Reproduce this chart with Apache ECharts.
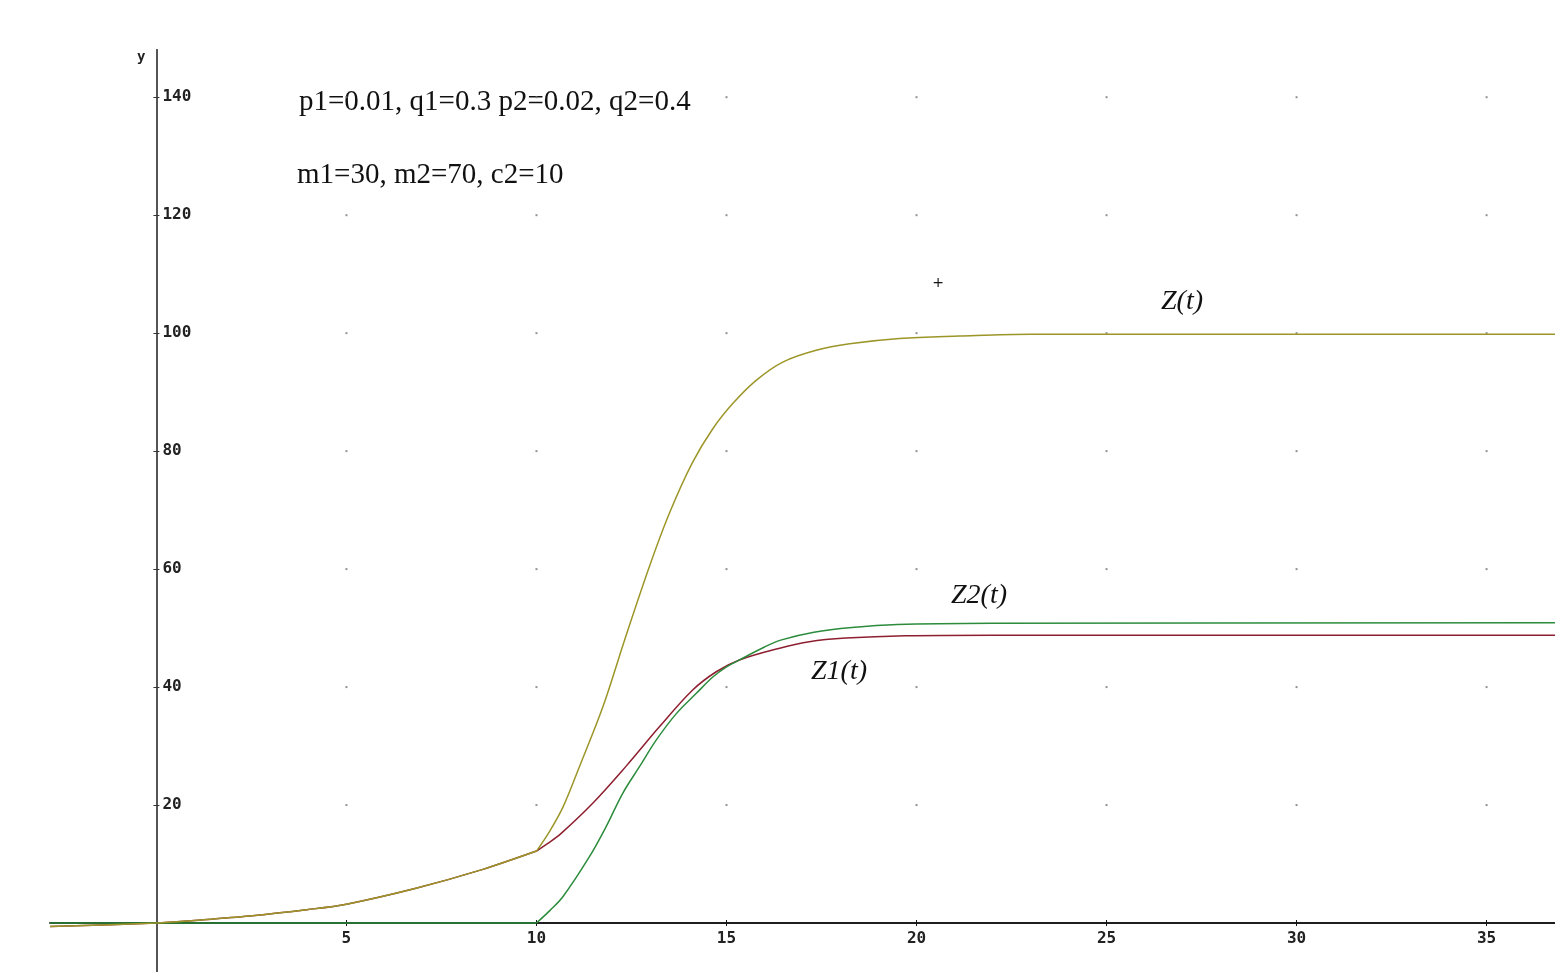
<!DOCTYPE html>
<html>
<head>
<meta charset="utf-8">
<script src="https://cdn.jsdelivr.net/npm/echarts@6/dist/echarts.min.js"></script>
<style>
html,body{margin:0;padding:0;background:#fff;}
#chart{width:1555px;height:972px;}
</style>
</head>
<body>
<div id="chart"></div>
<script>
// ---- data ----
const xTicks = [5, 10, 15, 20, 25, 30, 35];
const yTicks = [20, 40, 60, 80, 100, 120, 140];

// common part before t = 10 (Z = Z1, Z2 = 0)
const tPre = [-2.8, 0, 1, 2.45, 4, 5, 6.83, 8.59, 10];
const zPre = [-0.6, 0, 0.45, 1.2, 2.3, 3.2, 5.9, 9.1, 12.2];
const tZ2Pre = [-2.8, 10];
const z2Pre = [0, 0];

// Z(t) after t = 10
const tZ = [10, 10.35, 10.7, 11.13, 11.75, 12.32, 12.97, 13.5, 14.1, 14.64, 15.17, 15.78, 16.48, 17.36, 18.24, 19.55, 21.13, 23, 36.8];
const zVals = [12.2, 15.6, 19.7, 26.5, 36.7, 48.0, 60.4, 69.5, 78, 83.8, 88.1, 92.0, 95.1, 97.1, 98.2, 99.1, 99.5, 99.8, 99.8];

// Z1(t) after t = 10
const tZ1 = [10, 10.3, 10.65, 11.48, 12.36, 13.24, 14.11, 14.73, 15.34, 16.4, 17.18, 18.14, 19.7, 22, 36.8];
const z1Vals = [12.2, 13.5, 15.2, 20.3, 26.6, 33.3, 39.5, 42.6, 44.6, 46.6, 47.7, 48.3, 48.7, 48.8, 48.8];

// Z2(t) after t = 10
const tZ2 = [10, 10.35, 10.7, 11.39, 11.83, 12.27, 12.71, 13.15, 13.68, 14.2, 14.64, 14.99, 15.34, 16.0, 16.45, 17.3, 18.3, 19.5, 22, 36.8];
const z2Vals = [0, 2.1, 4.5, 11.2, 16.3, 22.0, 26.5, 31.0, 35.5, 38.9, 41.7, 43.4, 44.6, 46.8, 48.0, 49.3, 50.1, 50.6, 50.8, 50.9];

const paramLine1 = 'p1=0.01, q1=0.3 p2=0.02, q2=0.4';
const paramLine2 = 'm1=30, m2=70, c2=10';
const labelZ = 'Z(t)', labelZ1 = 'Z1(t)', labelZ2 = 'Z2(t)';

// ---- build ----
const pairs = (ts, vs) => ts.map((t, i) => [t, vs[i]]);
const dots = [];
xTicks.forEach(x => yTicks.forEach(y => dots.push([x, y])));

const cOlive = '#9c9628', cRed = '#8e1f30', cGreen = '#2c8c3c';
const monoFont = {fontFamily: 'DejaVu Sans Mono', fontWeight: 'bold', fontSize: 16, color: '#222'};

function line(data, color, smooth) {
  return {
    type: 'line', data: data, showSymbol: false, symbol: 'none',
    smooth: smooth,
    lineStyle: {color: color, width: 1.5}, silent: true
  };
}

// grid geometry
const G = {left: 50, top: 50, width: 1505, height: 922};
const xMin = -2.8, xMax = 36.8, yMin = -8.3, yMax = 148;
// offsets that bring the axes onto x = 0 and y = 0
const yAxisOffset = -(0 - xMin) / (xMax - xMin) * G.width;
const xAxisOffset = -(0 - yMin) / (yMax - yMin) * G.height;

const chart = echarts.init(document.getElementById('chart'), null, {renderer: 'canvas'});
const xBase = {type: 'value', min: xMin, max: xMax, splitLine: {show: false}, position: 'bottom', offset: xAxisOffset};
const yBase = {type: 'value', min: yMin, max: yMax, splitLine: {show: false}, position: 'left', offset: yAxisOffset};

chart.setOption({
  animation: false,
  backgroundColor: '#ffffff',
  grid: Object.assign({containLabel: false, outerBoundsMode: 'none'}, G),
  xAxis: [
    Object.assign({}, xBase, {
      axisLine: {show: true, onZero: false, lineStyle: {color: '#111', width: 1.5}},
      axisTick: {show: true, customValues: xTicks, length: 3, lineStyle: {color: '#111', width: 1}},
      axisLabel: Object.assign({customValues: xTicks, margin: 8}, monoFont)
    }),
    Object.assign({}, xBase, {
      axisLine: {show: true, onZero: false, lineStyle: {color: '#111', width: 1.5}},
      axisTick: {show: true, inside: true, customValues: xTicks, length: 3, lineStyle: {color: '#111', width: 1}},
      axisLabel: {show: false}
    })
  ],
  yAxis: [
    Object.assign({}, yBase, {
      axisLine: {show: true, onZero: false, lineStyle: {color: '#555', width: 2}},
      axisTick: {show: true, customValues: yTicks, length: 3, lineStyle: {color: '#333', width: 1}},
      axisLabel: Object.assign({customValues: yTicks, inside: true, margin: 6}, monoFont)
    }),
    Object.assign({}, yBase, {
      axisLine: {show: true, onZero: false, lineStyle: {color: '#555', width: 2}},
      axisTick: {show: true, inside: true, customValues: yTicks, length: 3, lineStyle: {color: '#333', width: 1}},
      axisLabel: {show: false}
    })
  ],
  series: [
    {type: 'scatter', data: dots, symbol: 'rect', symbolSize: 2, itemStyle: {color: '#777'}, silent: true},
    line(pairs(tPre, zPre), cRed, 0.3),
    line(pairs(tZ1, z1Vals), cRed, 0.35),
    line(pairs(tZ2Pre, z2Pre), cGreen, false),
    line(pairs(tZ2, z2Vals), cGreen, 0.35),
    line(pairs(tPre, zPre), cOlive, 0.3),
    line(pairs(tZ, zVals), cOlive, 0.35)
  ],
  graphic: [
    {type: 'text', left: 137, top: 50, style: {text: 'y', font: 'bold 14px "DejaVu Sans Mono"', fill: '#222'}},
    {type: 'text', x: 299, y: 102, style: {text: paramLine1, font: '29px "Liberation Serif"', fill: '#111', verticalAlign: 'middle'}},
    {type: 'text', x: 297, y: 175, style: {text: paramLine2, font: '29px "Liberation Serif"', fill: '#111', verticalAlign: 'middle'}},
    {type: 'text', x: 1161, y: 302, style: {text: labelZ, font: 'italic 28px "Liberation Serif"', fill: '#111', verticalAlign: 'middle'}},
    {type: 'text', x: 951, y: 596, style: {text: labelZ2, font: 'italic 28px "Liberation Serif"', fill: '#111', verticalAlign: 'middle'}},
    {type: 'text', x: 811, y: 672, style: {text: labelZ1, font: 'italic 28px "Liberation Serif"', fill: '#111', verticalAlign: 'middle'}},
    {type: 'text', x: 938, y: 283, style: {text: '+', font: '14px "DejaVu Sans"', fill: '#111', align: 'center', verticalAlign: 'middle'}}
  ]
});
</script>
</body>
</html>
